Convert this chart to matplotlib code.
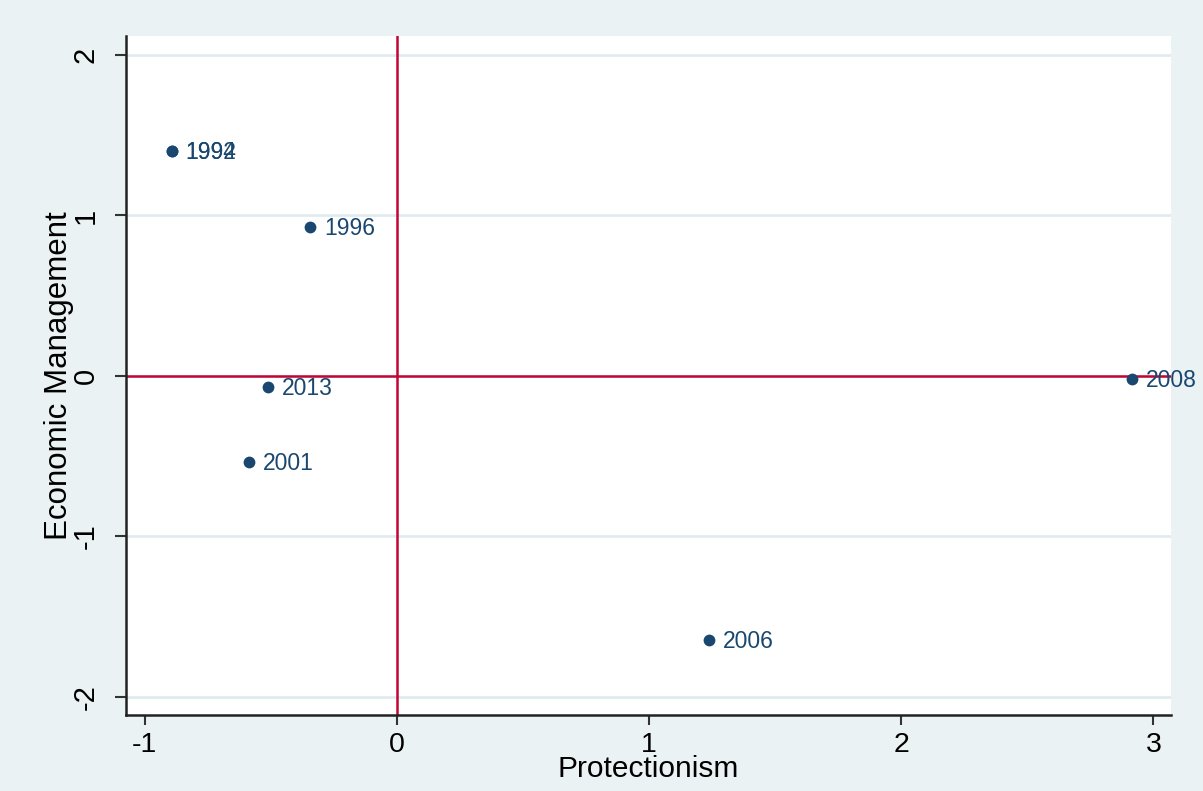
import matplotlib
matplotlib.use("Agg")
import matplotlib.pyplot as plt

plt.rcParams['font.family'] = ['Liberation Sans', 'DejaVu Sans']

years = ["1992", "1994", "1996", "2013", "2001", "2006", "2008"]
protectionism = [-0.893, -0.893, -0.345, -0.512, -0.587, 1.238, 2.917]
economic_mgmt = [1.402, 1.402, 0.928, -0.069, -0.536, -1.645, -0.019]
xticks = [-1, 0, 1, 2, 3]
yticks = [-2, -1, 0, 1, 2]

bg = "#EAF2F3"
navy = "#1A476F"
red = "#C10534"

fig = plt.figure(figsize=(12.03, 7.91), dpi=100, facecolor=bg)
ax = fig.add_axes([0.1047, 0.0961, 0.9734 - 0.1047, 0.9545 - 0.0961])
ax.set_facecolor("white")

ax.set_xlim(-1.075, 3.07)
ax.set_ylim(-2.112, 2.118)

for y in yticks:
    ax.axhline(y, color="#E1EBEE", lw=2, zorder=0)
ax.axhline(0, color=red, lw=1.8, zorder=1)
ax.axvline(0, color=red, lw=1.8, zorder=1)

ax.scatter(protectionism, economic_mgmt, s=72, color=navy, zorder=3, linewidths=0)
for x, y, t in zip(protectionism, economic_mgmt, years):
    ax.annotate(t, (x, y), xytext=(10, -1), textcoords="offset points",
                va="center", ha="left", fontsize=16.5, color=navy,
                zorder=4, annotation_clip=False)

ax.set_xticks(xticks)
ax.set_yticks(yticks)
ax.set_xticklabels([str(v) for v in xticks], fontsize=20.5)
ax.set_yticklabels([str(v) for v in yticks], fontsize=21, rotation=90, va="center")
ax.tick_params(axis="both", direction="out", length=8, width=1.5, color="#333333")
ax.tick_params(axis="x", length=7, pad=5)
ax.tick_params(axis="y", pad=11)

for s in ["top", "right"]:
    ax.spines[s].set_visible(False)
for s in ["left", "bottom"]:
    ax.spines[s].set_linewidth(1.8)
    ax.spines[s].set_color("#222222")

ax.set_xlabel("Protectionism", fontsize=21.5, labelpad=-2)
ax.set_ylabel("Economic Management", fontsize=22.5, labelpad=-2)

fig.savefig("out.png", dpi=100, facecolor=bg)
